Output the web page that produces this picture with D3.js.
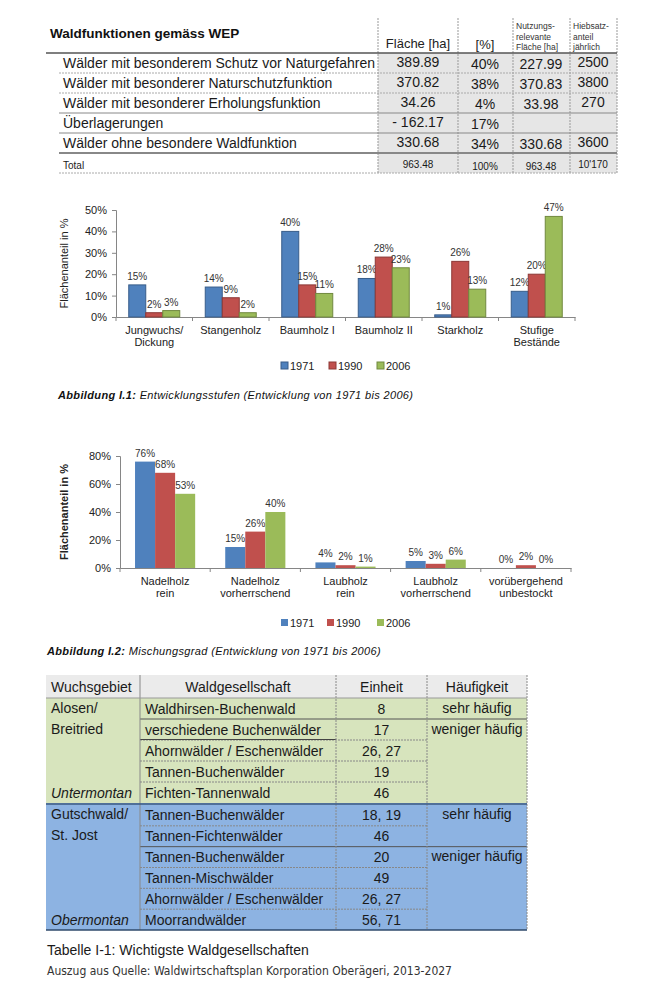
<!DOCTYPE html>
<html>
<head>
<meta charset="utf-8">
<script src="https://cdn.jsdelivr.net/npm/d3@7"></script>
<style>
  body { margin: 0; background: #fff; }
  svg { display: block; font-family: "Liberation Sans", Arial, sans-serif; }
</style>
</head>
<body>
<div id="page"></div>
<script>
// ---- data: Waldfunktionen table
var funcLabels = ["Wälder mit besonderem Schutz vor Naturgefahren", "Wälder mit besonderer Naturschutzfunktion",
  "Wälder mit besonderer Erholungsfunktion", "Überlagerungen", "Wälder ohne besondere Waldfunktion", "Total"];
var funcFlaeche = ["389.89", "370.82", "34.26", "- 162.17", "330.68", "963.48"];
var funcProzent = ["40%", "38%", "4%", "17%", "34%", "100%"];
var funcNutzung = ["227.99", "370.83", "33.98", "", "330.68", "963.48"];
var funcHiebsatz = ["2500", "3800", "270", "", "3600", "10'170"];

// ---- data: chart 1 (Entwicklungsstufen)
var years = ["1971", "1990", "2006"];
var stufen = [["Jungwuchs/", "Dickung"], ["Stangenholz"], ["Baumholz I"], ["Baumholz II"], ["Starkholz"], ["Stufige", "Bestände"]];
var stufen1971 = [15, 14, 40, 18, 1, 12];
var stufen1990 = [2, 9, 15, 28, 26, 20];
var stufen2006 = [3, 2, 11, 23, 13, 47];
var ticks1 = [0, 10, 20, 30, 40, 50];

// ---- data: chart 2 (Mischungsgrad)
var mischung = [["Nadelholz", "rein"], ["Nadelholz", "vorherrschend"], ["Laubholz", "rein"], ["Laubholz", "vorherrschend"], ["vorübergehend", "unbestockt"]];
var misch1971 = [76, 15, 4, 5, 0];
var misch1990 = [68, 26, 2, 3, 2];
var misch2006 = [53, 40, 1, 6, 0];
var ticks2 = [0, 20, 40, 60, 80];

// ---- data: Waldgesellschaften table
var wgHeader = ["Wuchsgebiet", "Waldgesellschaft", "Einheit", "Häufigkeit"];
var wgGebiet1 = ["Alosen/", "Breitried", "", "", "Untermontan"];
var wgGesell1 = ["Waldhirsen-Buchenwald", "verschiedene Buchenwälder", "Ahornwälder / Eschenwälder", "Tannen-Buchenwälder", "Fichten-Tannenwald"];
var wgEinheit1 = ["8", "17", "26, 27", "19", "46"];
var wgHaeuf1 = ["sehr häufig", "weniger häufig", "", "", ""];
var wgGebiet2 = ["Gutschwald/", "St. Jost", "", "", "", "Obermontan"];
var wgGesell2 = ["Tannen-Buchenwälder", "Tannen-Fichtenwälder", "Tannen-Buchenwälder", "Tannen-Mischwälder", "Ahornwälder / Eschenwälder", "Moorrandwälder"];
var wgEinheit2 = ["18, 19", "46", "20", "49", "26, 27", "56, 71"];
var wgHaeuf2 = ["sehr häufig", "", "weniger häufig", "", "", ""];

var colors = ["#4F81BD", "#C0504D", "#9BBB59"];
var strokes = ["#385D8A", "#8C3836", "#71893F"];

var svg = d3.select("#page").append("svg").attr("width", 650).attr("height", 983);

// ================= top table =================
(function() {
  var g = svg.append("g");
  var rows = d3.scaleBand().domain(d3.range(funcLabels.length)).range([53, 173]);
  var cols = [378, 458, 513, 570, 617];

  g.append("rect").attr("x", cols[0]).attr("y", 53).attr("width", cols[4] - cols[0]).attr("height", 120).attr("fill", "#e6e6e6");

  g.append("text").attr("x", 50).attr("y", 38).attr("font-size", 13.5).attr("font-weight", "bold").attr("fill", "#111")
    .text("Waldfunktionen gemäss WEP");

  // headers
  g.append("text").attr("x", 418).attr("y", 48).attr("text-anchor", "middle").attr("font-size", 13).attr("fill", "#222").text("Fläche [ha]");
  g.append("text").attr("x", 485).attr("y", 49).attr("text-anchor", "middle").attr("font-size", 13).attr("fill", "#222").text("[%]");
  [["Nutzungs-", "relevante", "Fläche [ha]", 516], ["Hiebsatz-", "anteil", "jährlich", 573]].forEach(function(h) {
    h.slice(0, 3).forEach(function(t, i) {
      g.append("text").attr("x", h[3]).attr("y", 29 + i * 10.5).attr("font-size", 8.5).attr("fill", "#333").text(t);
    });
  });

  // vertical dashed lines
  cols.forEach(function(c) {
    g.append("line").attr("x1", c).attr("x2", c).attr("y1", 18).attr("y2", 173)
      .attr("stroke", "#999").attr("stroke-dasharray", "2,1");
  });

  g.append("line").attr("x1", 46).attr("x2", cols[4]).attr("y1", 53).attr("y2", 53).attr("stroke", "#555").attr("stroke-width", 1.5);

  var lineStyle = ["dash", "dash", "solid", "solid", "thick", "dash"];
  funcLabels.forEach(function(lbl, i) {
    var y0 = rows(i), yb = y0 + rows.bandwidth();
    var small = i === funcLabels.length - 1;
    var fs = small ? 10 : 14;
    var base = y0 + (small ? 16 : 15);
    g.append("text").attr("x", 63).attr("y", base).attr("font-size", fs).attr("fill", "#1a1a1a").text(lbl);
    [[funcFlaeche[i], 418], [funcProzent[i], 485], [funcNutzung[i], 541], [funcHiebsatz[i], 593]].forEach(function(v, j) {
      g.append("text").attr("x", v[1]).attr("y", base + (j === 0 || j === 3 ? -1 : 1)).attr("text-anchor", "middle")
        .attr("font-size", fs).attr("fill", "#1a1a1a").text(v[0]);
    });
    var ls = lineStyle[i];
    g.append("line").attr("x1", 59).attr("x2", cols[4]).attr("y1", yb).attr("y2", yb)
      .attr("stroke", ls === "dash" ? "#aaa" : "#888")
      .attr("stroke-width", ls === "thick" ? 2 : 1)
      .attr("stroke-dasharray", ls === "dash" ? "2,1" : null);
  });
})();

// ================= grouped bar chart helper =================
function barChart(opt) {
  var g = svg.append("g");
  var x0 = d3.scaleBand().domain(d3.range(opt.cats.length)).range([opt.left, opt.right]);
  var bw = x0.bandwidth(), pad = bw / 6;
  var x1 = d3.scaleBand().domain(years).range([pad, bw - pad]);
  var y = d3.scaleLinear().domain([0, opt.max]).range([opt.bottom, opt.top]);

  // y axis
  var ya = g.append("g").attr("transform", "translate(" + opt.left + ",0)")
    .call(d3.axisLeft(y).tickValues(opt.ticks).tickSize(4).tickPadding(5).tickFormat(function(d) { return d + "%"; }));
  ya.selectAll("path, line").attr("stroke", "#868686");
  ya.selectAll("text").attr("font-size", 11).attr("fill", "#222").attr("font-family", "Liberation Sans, Arial, sans-serif");

  // x axis: base line and ticks between categories
  var xa = g.append("g").attr("transform", "translate(0," + opt.bottom + ")")
    .call(d3.axisBottom(x0).tickSize(0).tickFormat(""));
  xa.select(".domain").attr("stroke", "#868686");
  x0.domain().concat([opt.cats.length]).forEach(function(i) {
    var xx = i < opt.cats.length ? x0(i) : opt.right;
    g.append("line").attr("x1", xx).attr("x2", xx).attr("y1", opt.bottom).attr("y2", opt.bottom + 4).attr("stroke", "#868686");
  });
  opt.cats.forEach(function(c, i) {
    var t = g.append("text").attr("text-anchor", "middle").attr("font-size", 11).attr("fill", "#222");
    c.forEach(function(line, k) {
      t.append("tspan").attr("x", x0(i) + bw / 2).attr("y", opt.bottom + 17 + k * 12).text(line);
    });
  });

  // bars
  opt.series.forEach(function(vals, s) {
    var sg = g.append("g");
    sg.selectAll("rect").data(vals).enter().append("rect")
      .attr("x", function(d, i) { return x0(i) + x1(years[s]); })
      .attr("width", x1.bandwidth())
      .attr("y", function(d) { return y(d); })
      .attr("height", function(d) { return opt.bottom - y(d); })
      .attr("fill", colors[s])
      .attr("stroke", opt.outline ? strokes[s] : "none")
      .attr("stroke-width", opt.outline ? 1 : 0);
    sg.selectAll("text").data(vals).enter().append("text")
      .attr("x", function(d, i) { return x0(i) + x1(years[s]) + x1.bandwidth() / 2; })
      .attr("y", function(d) { return y(d) - 5; })
      .attr("text-anchor", "middle").attr("font-size", 10).attr("fill", "#333")
      .text(function(d) { return d + "%"; });
  });

  // y title
  g.append("text").attr("transform", "translate(" + opt.titleX + "," + ((opt.top + opt.bottom) / 2) + ") rotate(-90)")
    .attr("text-anchor", "middle").attr("font-size", 11).attr("fill", "#222")
    .attr("font-weight", opt.boldTitle ? "bold" : "normal").text("Flächenanteil in %");

  // legend
  years.forEach(function(yr, s) {
    var lx = opt.legendX[s];
    g.append("rect").attr("x", lx).attr("y", opt.legendY - 4).attr("width", 7).attr("height", 7)
      .attr("fill", colors[s]).attr("stroke", opt.outline ? strokes[s] : "none");
    g.append("text").attr("x", lx + 9).attr("y", opt.legendY + 4).attr("font-size", 11).attr("fill", "#222").text(yr);
  });

  // caption
  var cap = g.append("text").attr("x", opt.capX).attr("y", opt.capY).attr("font-size", 11)
    .attr("letter-spacing", 0.35).attr("font-style", "italic").attr("fill", "#111");
  cap.append("tspan").attr("font-weight", "bold").text(opt.capBold);
  cap.append("tspan").text(opt.capText);
}

barChart({
  cats: stufen, series: [stufen1971, stufen1990, stufen2006], max: 50, ticks: ticks1,
  left: 116, right: 575, top: 210, bottom: 317, outline: true, boldTitle: false, titleX: 68,
  legendX: [281, 329, 377], legendY: 366,
  capX: 58, capY: 399, capBold: "Abbildung I.1:", capText: " Entwicklungsstufen (Entwicklung von 1971 bis 2006)"
});

barChart({
  cats: mischung, series: [misch1971, misch1990, misch2006], max: 80, ticks: ticks2,
  left: 120, right: 571, top: 456, bottom: 568, outline: false, boldTitle: true, titleX: 68,
  legendX: [281, 327, 377], legendY: 623,
  capX: 47, capY: 655, capBold: "Abbildung I.2:", capText: " Mischungsgrad (Entwicklung von 1971 bis 2006)"
});

// ================= bottom table =================
(function() {
  var g = svg.append("g");
  var cols = [46, 140, 336, 427, 527];
  var colMid = [null, null, (cols[2] + cols[3]) / 2, (cols[3] + cols[4]) / 2];

  g.append("rect").attr("x", cols[0]).attr("y", 675).attr("width", cols[4] - cols[0]).attr("height", 23).attr("fill", "#ebebeb");
  g.append("rect").attr("x", cols[0]).attr("y", 698).attr("width", cols[4] - cols[0]).attr("height", 105).attr("fill", "#d7e4bd");
  g.append("rect").attr("x", cols[0]).attr("y", 803).attr("width", cols[4] - cols[0]).attr("height", 127).attr("fill", "#8db3e2");

  wgHeader.forEach(function(h, i) {
    var t = g.append("text").attr("y", 692).attr("font-size", 14).attr("fill", "#1a1a1a").text(h);
    if (i === 0) t.attr("x", 51);
    else t.attr("x", (cols[i] + cols[i + 1]) / 2).attr("text-anchor", "middle");
  });

  function section(y0, y1, gebiet, gesell, einheit, haeuf, lines) {
    var rows = d3.scaleBand().domain(d3.range(gesell.length)).range([y0, y1]);
    gesell.forEach(function(d, i) {
      var base = rows(i) + rows.bandwidth() / 2 + 5;
      var last = i === gesell.length - 1;
      if (gebiet[i]) g.append("text").attr("x", 51).attr("y", base - (i < 2 ? 1 : 0)).attr("font-size", 14)
        .attr("font-style", last ? "italic" : "normal").attr("fill", "#1a1a1a").text(gebiet[i]);
      g.append("text").attr("x", 145).attr("y", base).attr("font-size", 14).attr("fill", "#1a1a1a").text(d);
      g.append("text").attr("x", colMid[2]).attr("y", base).attr("text-anchor", "middle").attr("font-size", 14).attr("fill", "#1a1a1a").text(einheit[i]);
      if (haeuf[i]) g.append("text").attr("x", colMid[3]).attr("y", base - 1).attr("text-anchor", "middle").attr("font-size", 14).attr("fill", "#1a1a1a").text(haeuf[i]);
    });
    // separators between rows
    lines.forEach(function(l, i) {
      var yy = rows(i + 1);
      g.append("line").attr("x1", cols[1]).attr("x2", cols[l.to]).attr("y1", yy).attr("y2", yy)
        .attr("stroke", l.solid ? "#555" : "#888").attr("stroke-dasharray", l.solid ? null : "2,1");
    });
  }

  section(698, 803, wgGebiet1, wgGesell1, wgEinheit1, wgHaeuf1,
    [{to: 4, solid: true}, {to: 3, solid: false}, {to: 3, solid: false}, {to: 3, solid: false}]);
  g.append("line").attr("x1", cols[1]).attr("x2", cols[2]).attr("y1", 739.5).attr("y2", 739.5).attr("stroke", "#444");
  section(805, 930, wgGebiet2, wgGesell2, wgEinheit2, wgHaeuf2,
    [{to: 3, solid: false}, {to: 4, solid: true}, {to: 3, solid: false}, {to: 3, solid: false}, {to: 3, solid: false}]);

  cols.forEach(function(c, i) {
    g.append("line").attr("x1", c).attr("x2", c).attr("y1", 675).attr("y2", 930)
      .attr("stroke", i === 0 ? "none" : "#888").attr("stroke-dasharray", i === 1 ? null : "2,1");
  });
  g.append("line").attr("x1", cols[0]).attr("x2", cols[4]).attr("y1", 698).attr("y2", 698).attr("stroke", "#999");
  g.append("line").attr("x1", cols[0]).attr("x2", cols[4]).attr("y1", 804).attr("y2", 804).attr("stroke", "#3d5a80").attr("stroke-width", 1.5);
  g.append("line").attr("x1", cols[0]).attr("x2", cols[4]).attr("y1", 930).attr("y2", 930).attr("stroke", "#2f4a6b").attr("stroke-width", 1.5);

  g.append("text").attr("x", 47).attr("y", 955).attr("font-size", 14).attr("fill", "#1a1a1a").text("Tabelle I-1: Wichtigste Waldgesellschaften");
  g.append("text").attr("x", 47).attr("y", 975).attr("font-size", 12.5)
    .attr("font-family", "'Liberation Sans Narrow', 'DejaVu Sans Condensed', sans-serif")
    .attr("textLength", 405).attr("lengthAdjust", "spacingAndGlyphs").attr("fill", "#333")
    .text("Auszug aus Quelle: Waldwirtschaftsplan Korporation Oberägeri, 2013-2027");
})();
</script>
</body>
</html>
